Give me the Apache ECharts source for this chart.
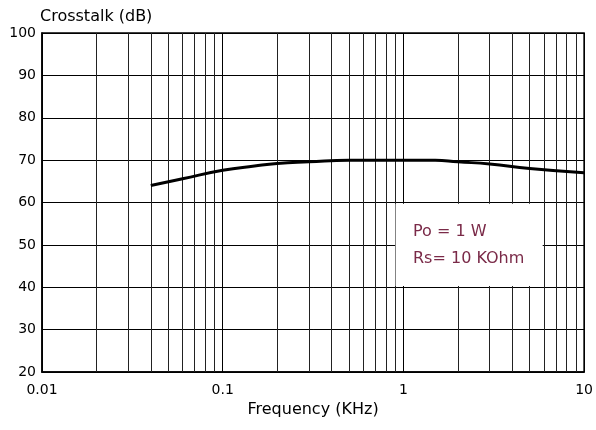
<!DOCTYPE html>
<html>
<head>
<meta charset="utf-8">
<script src="https://cdn.jsdelivr.net/npm/echarts@6/dist/echarts.min.js"></script>
<style>html,body{margin:0;padding:0;background:#fff}#c{width:596px;height:430px}</style>
</head>
<body>
<div id="c"></div>
<script>
// Data
const freqKHz = [0.04, 0.06, 0.1, 0.15, 0.2, 0.3, 0.5, 1, 1.5, 2, 3, 5, 10];
const crosstalkDb = [64, 65.6, 67.6, 68.6, 69.2, 69.6, 70, 70, 70, 69.6, 69.1, 68, 67];
const decades = [0.01, 0.1, 1];
const minorMultiples = [2, 3, 4, 5, 6, 7, 8, 9];
const yTicks = [20, 30, 40, 50, 60, 70, 80, 90, 100];
const titleY = 'Crosstalk (dB)';
const titleX = 'Frequency (KHz)';
const noteLines = ['Po = 1 W', 'Rs= 10 KOhm'];

const FONT = 'DejaVu Sans';
const minorLines = [];
decades.forEach(d => minorMultiples.forEach(m => minorLines.push({ xAxis: +(d * m).toPrecision(3) })));

const chart = echarts.init(document.getElementById('c'));
chart.setOption({
  animation: false,
  backgroundColor: '#fff',
  grid: { left: 42, right: 9, top: 33, bottom: 58, show: true, borderColor: '#000', borderWidth: 1.5, backgroundColor: 'transparent' },
  xAxis: {
    type: 'log', logBase: 10, min: 0.01, max: 10,
    name: titleX, nameLocation: 'middle', nameGap: 24,
    nameTextStyle: { fontFamily: FONT, fontSize: 16, color: '#000' },
    axisLine: { show: true, lineStyle: { color: '#000', width: 1.5 } },
    axisTick: { show: false },
    axisLabel: { fontFamily: FONT, fontSize: 14, color: '#000', margin: 11,
      formatter: v => String(Number(v.toPrecision(3))) },
    splitLine: { show: true, lineStyle: { color: '#000', width: 1 } }
  },
  yAxis: {
    type: 'value', min: yTicks[0], max: yTicks[yTicks.length - 1], interval: 10,
    axisLine: { show: true, lineStyle: { color: '#000', width: 1.5 } },
    axisTick: { show: false },
    axisLabel: { fontFamily: FONT, fontSize: 14, color: '#000', margin: 6 },
    splitLine: { show: true, lineStyle: { color: '#000', width: 1 } }
  },
  graphic: [
    { type: 'text', left: 40, top: 9, style: { text: titleY, font: '16px "DejaVu Sans"', fill: '#000' } },
    { type: 'text', left: 413, top: 224, z: 100, style: { text: noteLines[0], font: '16px "DejaVu Sans"', fill: '#7a2a48' } },
    { type: 'text', left: 413, top: 251, z: 100, style: { text: noteLines[1], font: '16px "DejaVu Sans"', fill: '#7a2a48' } }
  ],
  series: [
    {
      type: 'line', data: [], silent: true, z: 1,
      markLine: {
        silent: true, symbol: 'none', animation: false, z: 1,
        label: { show: false },
        lineStyle: { color: '#222', width: 1, type: 'solid' },
        data: minorLines
      }
    },
    {
      type: 'line', data: [], silent: true, z: 3,
      markArea: {
        silent: true, z: 4,
        itemStyle: { color: '#fff', opacity: 1 },
        data: [[{ coord: [0.905, 40.3] }, { coord: [5.9, 59.7] }]]
      }
    },
    {
      type: 'line', smooth: true, symbol: 'none', z: 5,
      lineStyle: { color: '#000', width: 3 },
      data: freqKHz.map((f, i) => [f, crosstalkDb[i]])
    }
  ]
});
</script>
</body>
</html>
